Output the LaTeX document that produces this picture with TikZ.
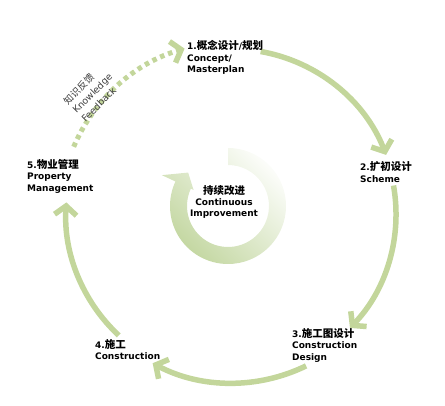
\documentclass[tikz,border=0pt]{standalone}
\usepackage{fontspec}
\setmainfont{DejaVu Sans}
\newfontfamily\cjk{Noto Sans CJK SC}
\usetikzlibrary{arrows.meta,calc}
\definecolor{arrowgreen}{HTML}{C3D69B}
\definecolor{ringgreen}{HTML}{C2D69F}
\definecolor{feedgray}{HTML}{3C3C3C}
\newcommand{\zh}[1]{{\cjk\fontsize{10.5}{11.7}\selectfont #1}}
\newcommand{\zhs}[1]{{\cjk\fontsize{9.5}{12}\selectfont #1}}
\tikzset{
  flow/.style={draw=arrowgreen, line width=5.5pt, -{Straight Barb[length=9pt,width=22pt]}},
  feedback/.style={draw=arrowgreen, line width=5pt, dash pattern=on 4.5pt off 4pt, -{Straight Barb[length=9pt,width=22pt,line width=5.5pt]}},
  stage/.style={anchor=north west, inner sep=0pt, align=left, font=\fontsize{9}{11.7}\selectfont\bfseries},
  centertext/.style={anchor=north, inner sep=0pt, align=center, font=\fontsize{9}{11}\selectfont\bfseries},
  feedtext/.style={rotate=45, inner sep=0pt, align=left, text=feedgray, font=\fontsize{9.3}{12.5}\selectfont},
  ring/.style={top color=ringgreen, bottom color=ringgreen!6!white, shading angle=135, draw=none},
}
\begin{document}
\begin{tikzpicture}[x=1pt,y=1pt]
\useasboundingbox (0,0) rectangle (445,-406);

% big cycle centre
\coordinate (C) at (232,-214);
\coordinate (a1) at ([shift={(80:165)}]C);
\coordinate (a2) at ([shift={(10:164)}]C);
\coordinate (a3) at ([shift={(-64:169)}]C);
\coordinate (a4) at ([shift={(-133:166)}]C);
\coordinate (a5) at ([shift={(-203:172)}]C);

\draw[flow] (a1) arc[start angle=80, end angle=21, radius=165];
\draw[flow] (a2) arc[start angle=10, end angle=-44, radius=164];
\draw[flow] (a3) arc[start angle=-64, end angle=-118, radius=169];
\draw[flow] (a4) arc[start angle=-133, end angle=-184, radius=166];
\draw[feedback] (a5) arc[start angle=-203, end angle=-254, radius=172];

% central circular arrow
\coordinate (R) at (228,-206);
\path[ring] ([shift={(90:58)}]R) arc[start angle=90, end angle=-205, radius=58]
  -- ([shift={(155:73)}]R) -- ([shift={(140:52)}]R) -- ([shift={(155:38)}]R)
  -- ([shift={(155:41)}]R) arc[start angle=155, end angle=450, radius=41] -- cycle;

% labels
\node[stage] (s1) at (187,-40) {1.\zh{概念设计}/\zh{规划}\\Concept/\\Masterplan};
\node[stage] (s2) at (360,-161.5) {2.\zh{扩初设计}\\Scheme};
\node[stage] (s3) at (292,-328) {3.\zh{施工图设计}\\Construction\\Design};
\node[stage] (s4) at (95,-339) {4.\zh{施工}\\Construction};
\node[stage] (s5) at (27,-159) {5.\zh{物业管理}\\Property\\Management};
\node[centertext] (ci) at (224,-185) {\zh{持续改进}\\Continuous\\Improvement};
\node[feedtext] (fb) at (92,-93) {\zhs{知识反馈}\\Knowledge\\Feedback};
\end{tikzpicture}
\end{document}
